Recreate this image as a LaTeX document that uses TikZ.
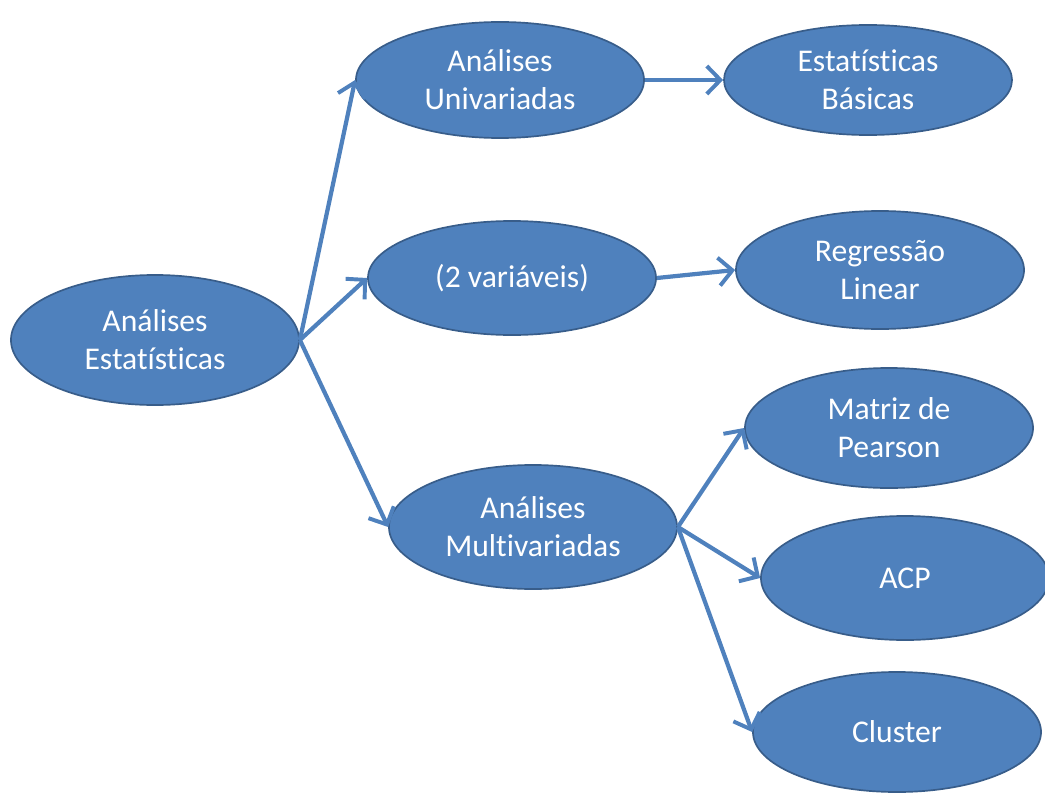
\documentclass[tikz,border=0pt]{standalone}
\usepackage{fontspec}
\setmainfont{Carlito}[Ligatures=NoCommon]
\usepackage{tikz}
\usetikzlibrary{arrows.meta,positioning,shapes.geometric}
\definecolor{nodefill}{RGB}{79,129,189}
\definecolor{nodeline}{RGB}{56,93,138}
\begin{document}
\begin{tikzpicture}[x=0.025cm,y=-0.025cm,oval/.style={ellipse,draw=nodeline,fill=nodefill,line width=1.2pt,inner sep=0pt,minimum width=7.2cm,minimum height=2.95cm,align=center,text=white,font=\fontsize{22.5}{27}\selectfont},arrow/.style={-{Straight Barb[length=3.4mm,width=7mm,line width=2.8pt]},line width=3pt,draw=nodefill}]
\useasboundingbox (0,0) rectangle (1045,795);
\node[oval,minimum height=3.25cm] (root) at (155,340) {Análises\\Estatísticas};
\node[oval,minimum height=2.9cm] (uni) at (500,80) {Análises\\Univariadas};
\node[oval,minimum height=2.75cm] (basic) at (868,80) {Estatísticas\\Básicas};
\node[oval,minimum height=2.85cm] (biv) at (512,278) {(2 variáveis)};
\node[oval,minimum height=2.95cm] (reg) at (880,270) {Regressão\\Linear};
\node[oval,minimum height=3.1cm] (multi) at (533,527) {Análises\\Multivariadas};
\node[oval,minimum height=3cm] (pearson) at (889,428) {Matriz de\\Pearson};
\node[oval,minimum height=3.1cm] (acp) at (905,578) {ACP};
\node[oval,minimum height=3cm] (cluster) at (897,732) {Cluster};
\draw[arrow] (root.east)--(uni.west); \draw[arrow] (root.east)--(biv.west); \draw[arrow] (root.east)--(multi.west);
\draw[arrow] (uni)--(basic); \draw[arrow] (biv.east)--(reg.west);
\draw[arrow] (multi.east)--(pearson.west); \draw[arrow] (multi.east)--(acp.west); \draw[arrow] (multi.east)--(cluster.west);
\end{tikzpicture}
\end{document}
